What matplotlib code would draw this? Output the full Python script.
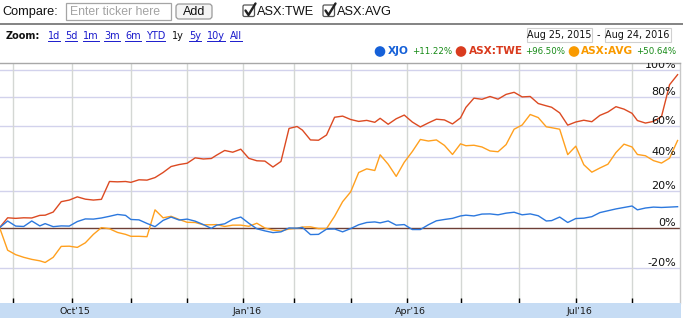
import numpy as np
import pandas as pd
import matplotlib
matplotlib.use("Agg")
import matplotlib.pyplot as plt
import matplotlib.transforms as mtransforms
from matplotlib.patches import Circle, FancyBboxPatch, Rectangle
from matplotlib.lines import Line2D

W, H = 683, 318

# ASX trading calendar of the chart (Aug 25, 2015 - Aug 24, 2016)
start, end = "2015-08-25", "2016-08-24"
asx_holidays = ["2015-12-25", "2015-12-28", "2016-01-01", "2016-01-26",
                "2016-03-25", "2016-03-28", "2016-04-25", "2016-06-13"]

# % change since start, read roughly every third trading day
xjo = [0, 3.5, 0.8, 0.6, 3.5, 0.9, 2.1, 0.5, 0.9, 0.8,
       3.2, 4.6, 4.5, 5.1, 6.0, 7.0, 6.5, 4.3, 4.1, 2.2,
       0.5, 3.8, 5.6, 4.0, 4.5, 3.4, 1.6, -0.4, 1.3, 2.0,
       4.4, 5.6, 2.3, -0.6, -1.7, -2.6, -2.2, -0.2, -0.3, 0.1,
       -3.6, -3.5, -0.8, -0.7, -2.2, -0.5, 1.5, 2.7, 3.0, 2.5,
       3.5, 1.3, 1.6, -1.0, -1.0, 1.5, 3.6, 4.3, 4.9, 6.2,
       6.6, 6.2, 7.2, 7.3, 6.8, 7.7, 8.2, 6.8, 7.3, 6.3,
       3.5, 3.7, 5.6, 2.7, 4.8, 5.0, 5.8, 8.0, 9.0, 10.0,
       10.8, 11.6, 9.5, 10.5, 11.0, 10.8, 11.0, 11.22]
twe = [0, 5.2, 4.9, 5.2, 5.1, 6.5, 6.6, 8.3, 14.0, 14.9,
       16.7, 15.4, 14.9, 15.3, 25.5, 25.3, 25.5, 25.0, 26.5, 26.3,
       27.8, 30.8, 34.4, 35.6, 36.4, 39.7, 39.0, 39.3, 41.4, 44.3,
       43.2, 45.1, 39.4, 37.9, 37.7, 34.1, 37.5, 58.5, 59.8, 57.4,
       51.0, 50.8, 54.2, 66.0, 66.8, 64.5, 63.2, 63.9, 62.6, 65.3,
       61.3, 65.0, 67.5, 62.8, 59.5, 62.2, 64.7, 64.2, 61.5, 65.6,
       72.8, 79.3, 78.5, 80.5, 78.6, 82.0, 83.5, 80.2, 80.5, 75.5,
       73.9, 72.9, 69.0, 60.7, 62.8, 64.0, 63.0, 67.3, 69.6, 73.3,
       71.6, 68.7, 63.8, 62.1, 63.2, 66.5, 89.0, 96.5]
avg = [0, -11.5, -13.7, -15.0, -16.0, -16.7, -17.5, -15.0, -9.6, -9.5,
       -10.1, -7.8, -3.5, 0.0, -0.6, -2.5, -3.5, -4.5, -4.5, -4.7,
       9.5, 5.2, 6.0, 4.3, 2.8, 2.7, 1.5, 1.5, 1.6, 0.6,
       1.3, 1.3, 0.7, 2.3, -0.2, -1.3, -1.8, -0.7, -0.3, 0.3,
       0.4, -0.5, -0.5, 6.0, 14.0, 19.5, 30.8, 33.0, 32.0, 41.6,
       35.8, 28.5, 37.0, 43.6, 51.3, 50.3, 51.0, 47.5, 41.8, 48.5,
       47.3, 47.6, 46.5, 44.0, 43.5, 48.0, 58.0, 60.8, 67.9, 65.8,
       59.6, 59.0, 58.0, 41.7, 47.0, 35.5, 31.0, 33.5, 35.8, 43.0,
       48.3, 46.5, 41.8, 41.0, 38.0, 36.5, 39.5, 50.64]

names = ["XJO", "ASX:TWE", "ASX:AVG"]
changes = ["+11.22%", "+96.50%", "+50.64%"]
y_ticks = [-20, 0, 20, 40, 60, 80, 100]
quarter_months = [10, 1, 4, 7]
zoom_links = ["1d", "5d", "1m", "3m", "6m", "YTD", "1y", "5y", "10y", "All"]
date_from, date_to = "Aug 25, 2015", "Aug 24, 2016"
compare_tickers = ["ASX:TWE", "ASX:AVG"]

line_colors = ["#2c78de", "#dc4a22", "#ffa01e"]
text_colors = ["#1560d8", "#d93b1e", "#f99a00"]

days = pd.bdate_range(start, end)
days = days[~days.isin(pd.to_datetime(asx_holidays))]
n = len(days)
sample_idx = np.round(np.linspace(0, n - 1, len(xjo))).astype(int)
month_first = [i for i in range(1, n) if days[i].month != days[i - 1].month]

fig = plt.figure(figsize=(W / 100, H / 100), dpi=100)
fig.patch.set_facecolor("white")
# top-left origin pixel coordinates for the page furniture
pix = mtransforms.Affine2D().scale(1 / 100, -1 / 100).translate(0, H / 100) + fig.dpi_scale_trans

# ---- main chart
ax = fig.add_axes([0, 1 - 303 / H, 680 / W, 240 / H])
ax.set_yscale("function", functions=(lambda p: np.log(np.maximum(p + 220, 1e-9)),
                                     lambda v: np.exp(v) - 220))
ax.set_ylim(-36.1, 105.4)
ax.set_xlim(0.15, 253.9)

for t in y_ticks:
    if t == 0:
        ax.axhline(t, color="#6e3f36", lw=1.0, zorder=2)
    else:
        ax.axhline(t, color="#d2d2ec", lw=1.0, zorder=1)
for m in month_first:
    ax.axvline(m, color="#d4d7d4", lw=1.0, zorder=1)

for vals, c in zip([avg, twe, xjo], [line_colors[2], line_colors[1], line_colors[0]]):
    ax.plot(sample_idx, vals, color=c, lw=1.0, zorder=3)

lbl_trans = mtransforms.blended_transform_factory(ax.transAxes, ax.transData)
for t in y_ticks:
    ax.text(676 / 680, t, f"{t}%", transform=lbl_trans, ha="right", va="bottom",
            fontsize=8, color="#111111", zorder=4, clip_on=True)

ax.set_xticks(month_first)
ax.set_yticks([])
ax.tick_params(axis="x", direction="in", length=3.6, width=1, color="black",
               labelbottom=False)
ax.minorticks_off()
ax.set_yticks([], minor=True)
for s in ["left", "bottom"]:
    ax.spines[s].set_visible(False)
ax.spines["top"].set_color("#a8a8a8")
ax.spines["right"].set_color("#c8c8c8")
ax.spines["top"].set_linewidth(1.0)
ax.spines["right"].set_linewidth(1.0)

# ---- date band
band = fig.add_axes([0, 0, 681 / W, 15 / H])
band.set_facecolor("#c6dcf4")
band.set_xlim(ax.get_xlim())
band.set_ylim(0, 1)
band.set_xticks([])
band.set_yticks([])
for s in band.spines.values():
    s.set_visible(False)
for m in month_first:
    if days[m].month in quarter_months:
        band.annotate(days[m].strftime("%b'%y"), (m, 0.45), xytext=(2.2, 0),
                      textcoords="offset points", ha="center", va="center",
                      fontsize=6.8, color="#1a1a1a")

# ---- header
fig.add_artist(Line2D([0, W], [23.5, 23.5], transform=pix, color="#7a7a7a", lw=1.3))
fig.text(2, 12, "Compare:", transform=pix, fontsize=9.2, family="Liberation Sans",
         va="center", color="#111111")
fig.add_artist(Rectangle((66, 2.5), 105, 17.5, transform=pix, fc="white",
                         ec="#a5a5a5", lw=0.9))
fig.text(69.5, 12, "Enter ticker here", transform=pix, fontsize=8.8,
         family="Liberation Sans", va="center", color="#a3a3a3")
fig.add_artist(FancyBboxPatch((176, 4), 36, 15, boxstyle="round,pad=0,rounding_size=3",
                              transform=pix, fc="#f4f4f4", ec="#9a9a9a", lw=0.9))
fig.text(194, 12, "Add", transform=pix, fontsize=9, family="Liberation Sans",
         ha="center", va="center", color="#111111")
for bx, tick in zip([243, 323], compare_tickers):
    fig.add_artist(FancyBboxPatch((bx, 5), 11.5, 11.5, boxstyle="round,pad=0,rounding_size=1.5",
                                  transform=pix, fc="white", ec="#555555", lw=0.9))
    fig.add_artist(Line2D([bx + 2.5, bx + 5.5, bx + 12.5], [10.5, 15, 3.5], transform=pix,
                          color="#222222", lw=1.7, solid_capstyle="round"))
    fig.text(bx + 14, 12, tick, transform=pix, fontsize=9.2, family="Liberation Sans",
             va="center", color="#111111")

fig.text(6, 36, "Zoom:", transform=pix, fontsize=7, fontweight="bold", va="center",
         color="#111111")
link_x = [48, 65, 83, 104, 125, 146, 172, 189, 207, 230]
link_texts = []
for lx, lab in zip(link_x, zoom_links):
    col = "#111111" if lab == "1y" else "#1a1acc"
    link_texts.append(fig.text(lx, 36, lab, transform=pix, fontsize=7, va="center", color=col))

for bx, bw, s in [(527, 65, date_from), (604.5, 66, date_to)]:
    fig.add_artist(Rectangle((bx, 27.5), bw, 14.5, transform=pix, fc="white",
                             ec="#d0d0d0", lw=0.8))
    fig.text(bx + bw / 2, 35, s, transform=pix, fontsize=6.9, ha="center", va="center",
             color="#111111")
fig.text(598.5, 35, "-", transform=pix, fontsize=7, ha="center", va="center", color="#111111")

leg_dot = [380, 461, 574]
leg_name = [387.5, 468.5, 581]
leg_pct = [412, 525, 636]
for i in range(3):
    fig.add_artist(Circle((leg_dot[i], 51.5), 4.6, transform=pix, color=text_colors[i]))
    fig.text(leg_name[i], 54, names[i], transform=pix, fontsize=7.6, fontweight="bold",
             va="baseline", color=text_colors[i])
    fig.text(leg_pct[i], 54.5, changes[i], transform=pix, fontsize=6.2, va="baseline",
             color="#168a16")

# underline the zoom links
fig.canvas.draw()
r = fig.canvas.get_renderer()
for t, lab in zip(link_texts, zoom_links):
    if lab == "1y":
        continue
    bb = t.get_window_extent(r)
    fig.add_artist(Line2D([bb.x0, bb.x1], [H - 40.5, H - 40.5],
                          transform=mtransforms.IdentityTransform(), color="#1a1acc", lw=0.7))

fig.savefig("out.png", dpi=100)
